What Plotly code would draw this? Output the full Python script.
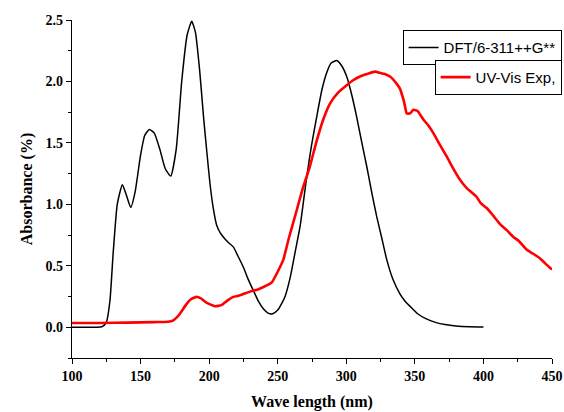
import plotly.graph_objects as go

# DFT/6-311++G** computed spectrum
dft_x = [100, 110, 118, 122, 125, 127.7, 130, 133, 136.7, 139.5, 142.8, 146, 150, 153, 156.4, 160, 164, 168, 172,
         176, 180, 184, 187.3, 190, 193, 196, 198.2, 200.6, 203, 205.5, 208, 210.3, 214, 217.6, 221, 224.9,
         228.5, 232.2, 236, 239.5, 243, 246.3, 250, 255, 259, 262.5, 266.3, 271.1, 274.5, 278.4, 282, 285.7,
         289, 293, 296.5, 300.3, 304, 307.6, 311, 314.9, 318.5, 322.2, 326, 329.5, 334, 339.2, 343, 346.5,
         352, 358, 365, 372, 380, 390, 400]
dft_y = [0.0, 0.0, 0.0, 0.005, 0.04, 0.22, 0.6, 1.0, 1.16, 1.08, 0.975, 1.1, 1.4, 1.56, 1.61, 1.58, 1.45, 1.29, 1.23,
         1.45, 2.0, 2.38, 2.49, 2.4, 2.1, 1.7, 1.44, 1.17, 0.97, 0.83, 0.77, 0.735, 0.69, 0.654, 0.58, 0.49,
         0.39, 0.30, 0.21, 0.15, 0.115, 0.11, 0.14, 0.24, 0.4, 0.6, 0.82, 1.22, 1.47, 1.71, 1.92, 2.07,
         2.15, 2.17, 2.13, 2.04, 1.89, 1.71, 1.52, 1.31, 1.1, 0.90, 0.72, 0.55, 0.39, 0.27, 0.21, 0.17,
         0.11, 0.07, 0.04, 0.022, 0.011, 0.005, 0.003]

# UV-Vis experimental spectrum
exp_x = [100, 120, 140, 160, 170, 173.9, 178, 183.6, 187, 190.9, 194, 198, 204.3, 209, 213, 217.6, 222.5, 229.8,
         236, 242, 246, 251.7, 254.1, 258, 263.8, 268, 273.5, 278, 283.2, 288.1, 294, 300.3, 305, 310,
         315, 320.9, 324.6, 328, 331.9, 336.8, 339.2, 340.4, 342, 344.1, 346.5, 348.9, 352, 356.2, 360,
         363.5, 368, 373.2, 378, 382.9, 388, 395.1, 398, 402.4, 407, 412.1, 417, 421.8, 426, 431.6, 436,
         441.3, 445, 449, 450]
exp_y = [0.035, 0.035, 0.038, 0.042, 0.045, 0.057, 0.1, 0.19, 0.23, 0.247, 0.235, 0.2, 0.171, 0.18, 0.215, 0.247, 0.26, 0.29,
         0.31, 0.34, 0.37, 0.49, 0.55, 0.72, 0.95, 1.12, 1.31, 1.5, 1.69, 1.82, 1.91, 1.97, 2.01, 2.04,
         2.06, 2.08, 2.07, 2.06, 2.04, 1.98, 1.94, 1.90, 1.84, 1.74, 1.74, 1.77, 1.76, 1.69, 1.64,
         1.58, 1.49, 1.39, 1.29, 1.20, 1.13, 1.06, 1.01, 0.97, 0.91, 0.84, 0.79, 0.735, 0.70, 0.63, 0.60,
         0.56, 0.52, 0.48, 0.47]

fig = go.Figure()
fig.add_trace(go.Scatter(x=dft_x, y=dft_y, mode="lines", name="DFT/6-311++G**",
                         line=dict(color="black", width=1.5, shape="spline", smoothing=0.5),
                         legend="legend", showlegend=True))
fig.add_trace(go.Scatter(x=exp_x, y=exp_y, mode="lines", name="UV-Vis Exp,",
                         line=dict(color="#ff0000", width=2.6, shape="spline", smoothing=0.4),
                         legend="legend2", showlegend=True))

tickfont = dict(family="Liberation Serif", size=14, color="black")
titlefont = dict(family="Liberation Serif", size=16, color="black")
legfont = dict(family="Liberation Sans", size=15, color="black")

fig.update_layout(
    width=564, height=412,
    margin=dict(l=72, r=12, t=20, b=54, autoexpand=False),
    plot_bgcolor="white", paper_bgcolor="white",
    showlegend=True,
    legend=dict(x=1.020, y=0.970, xanchor="right", yanchor="top",
                bordercolor="black", borderwidth=1, bgcolor="white",
                font=legfont, itemwidth=30, tracegroupgap=0),
    legend2=dict(x=1.020, y=0.882, xanchor="right", yanchor="top",
                 bordercolor="black", borderwidth=1, bgcolor="white",
                 font=legfont, itemwidth=30, tracegroupgap=0),
    xaxis=dict(range=[100, 450], dtick=50, tick0=100, showgrid=False, zeroline=False,
               showline=True, linecolor="black", linewidth=1.3, automargin=False,
               ticks="outside", ticklen=5, tickwidth=1.2, tickcolor="black",
               minor=dict(dtick=25, tick0=100, ticks="outside", ticklen=3, tickcolor="black", showgrid=False),
               tickfont=tickfont,
               title=dict(text="<b>Wave length (nm)</b>", font=titlefont, standoff=12)),
    yaxis=dict(range=[-0.25, 2.5], dtick=0.5, tick0=0, showgrid=False, zeroline=False,
               showline=True, linecolor="black", linewidth=1.3, automargin=False,
               ticks="outside", ticklen=5, tickwidth=1.2, tickcolor="black",
               minor=dict(dtick=0.25, tick0=0, ticks="outside", ticklen=3, tickcolor="black", showgrid=False),
               tickfont=tickfont, tickformat=".1f",
               title=dict(text="<b>Absorbance (%)</b>", font=titlefont, standoff=8)),
)
fig.update_xaxes(tickprefix="<b>", ticksuffix="</b>")
fig.update_yaxes(tickprefix="<b>", ticksuffix="</b>")

fig.write_html("out.html",
               config={"displayModeBar": False},
               post_script="document.body.style.margin='0';document.body.style.overflow='hidden';")
